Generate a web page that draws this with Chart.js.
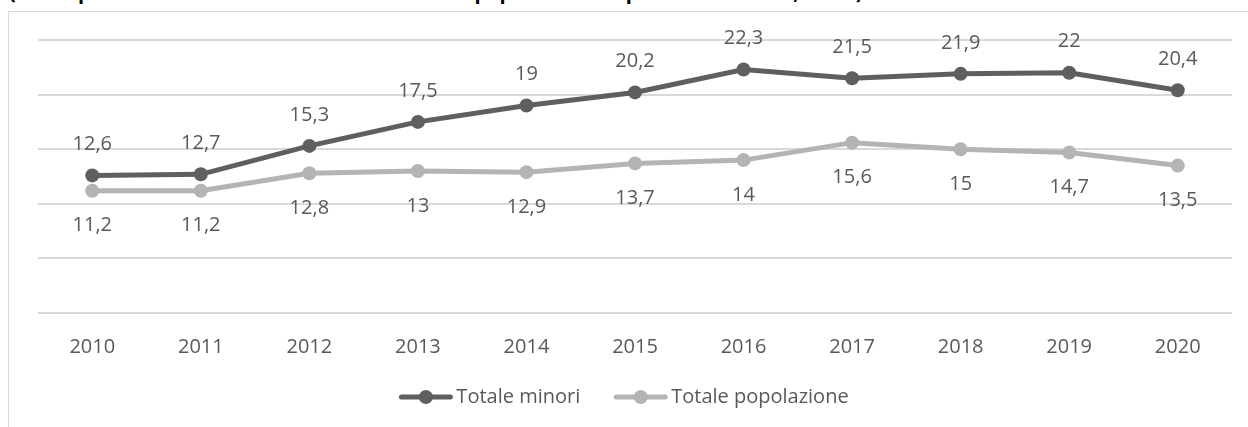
<!DOCTYPE html>
<html lang="it">
<head>
<meta charset="UTF-8">
<title>Totale minori / Totale popolazione</title>
<script src="https://cdn.jsdelivr.net/npm/chart.js"></script>
<style>
  html, body { margin: 0; padding: 0; background: #fff; }
  #wrap { position: relative; width: 1248px; height: 427px; overflow: hidden; }
  #title {
    position: absolute; left: 9px; top: -22px; white-space: nowrap;
    font: bold 20px "Open Sans", sans-serif; color: #000;
  }
  #frame {
    position: absolute; left: 8px; top: 11px; width: 1300px; height: 500px;
    border-left: 1px solid #d9d9d9; border-top: 1px solid #d9d9d9;
  }
  canvas { position: absolute; left: 0; top: 0; }
</style>
</head>
<body>
<div id="wrap">
  <div id="title">(valori percentuali sui minori e sul totale della popolazione in povertà assoluta, Italia) – Anni 2010-2020</div>
  <div id="frame"></div>
  <canvas id="chart" width="1248" height="427"></canvas>
</div>
<script>
  const years = ['2010', '2011', '2012', '2013', '2014', '2015', '2016', '2017', '2018', '2019', '2020'];
  const totaleMinori = [12.6, 12.7, 15.3, 17.5, 19, 20.2, 22.3, 21.5, 21.9, 22, 20.4];
  const totalePopolazione = [11.2, 11.2, 12.8, 13, 12.9, 13.7, 14, 15.6, 15, 14.7, 13.5];

  const textColor = '#595959';
  const fontFamily = '"Open Sans", sans-serif';

  // value labels, dark series above, light series below
  const valueLabels = {
    id: 'valueLabels',
    afterDatasetsDraw(chart) {
      const ctx = chart.ctx;
      ctx.save();
      ctx.font = '20px ' + fontFamily;
      ctx.fillStyle = textColor;
      ctx.textAlign = 'center';
      ctx.textBaseline = 'middle';
      chart.data.datasets.forEach((ds, i) => {
        const off = i === 0 ? -31 : 35;
        chart.getDatasetMeta(i).data.forEach((pt, j) => {
          ctx.fillText(String(ds.data[j]).replace('.', ','), pt.x, pt.y + off);
        });
      });
      ctx.restore();
    }
  };

  // legend drawn like the office one: line with a marker in the middle
  const lineLegend = {
    id: 'lineLegend',
    afterDraw(chart) {
      const ctx = chart.ctx;
      const y = 397, lineLen = 53, gap = 4, itemGap = 34;
      ctx.save();
      ctx.font = '20px ' + fontFamily;
      const items = chart.data.datasets.map(ds => ({ ds, w: ctx.measureText(ds.label).width }));
      let total = 0;
      items.forEach((it, i) => { total += lineLen + gap + it.w + (i ? itemGap : 0); });
      let x = chart.width / 2 - total / 2;
      items.forEach(it => {
        ctx.strokeStyle = it.ds.borderColor;
        ctx.lineWidth = 5;
        ctx.lineCap = 'round';
        ctx.beginPath();
        ctx.moveTo(x + 2, y);
        ctx.lineTo(x + lineLen - 2, y);
        ctx.stroke();
        ctx.fillStyle = it.ds.borderColor;
        ctx.beginPath();
        ctx.arc(x + lineLen / 2, y, 7, 0, Math.PI * 2);
        ctx.fill();
        ctx.fillStyle = textColor;
        ctx.textBaseline = 'middle';
        ctx.textAlign = 'left';
        ctx.fillText(it.ds.label, x + lineLen + gap, y);
        x += lineLen + gap + it.w + itemGap;
      });
      ctx.restore();
    }
  };

  new Chart(document.getElementById('chart'), {
    type: 'line',
    data: {
      labels: years,
      datasets: [
        {
          label: 'Totale minori',
          data: totaleMinori,
          borderColor: '#5f5f5f',
          backgroundColor: '#5f5f5f',
          borderWidth: 5,
          pointRadius: 7,
          pointBorderWidth: 0,
          tension: 0
        },
        {
          label: 'Totale popolazione',
          data: totalePopolazione,
          borderColor: '#b4b4b4',
          backgroundColor: '#b4b4b4',
          borderWidth: 5,
          pointRadius: 7,
          pointBorderWidth: 0,
          tension: 0
        }
      ]
    },
    options: {
      responsive: false,
      animation: false,
      layout: { padding: { left: 38, right: 16, top: 40, bottom: 46 } },
      plugins: { legend: { display: false }, tooltip: { enabled: false } },
      scales: {
        x: {
          offset: true,
          grid: { display: false, drawTicks: false },
          border: { display: false },
          ticks: { color: textColor, font: { size: 20, family: fontFamily }, padding: 22 }
        },
        y: {
          min: 0,
          max: 25,
          ticks: { stepSize: 5, display: false },
          grid: { color: '#d9d9d9', lineWidth: 2, drawTicks: false },
          border: { display: false }
        }
      }
    },
    plugins: [valueLabels, lineLegend]
  });
</script>
</body>
</html>
